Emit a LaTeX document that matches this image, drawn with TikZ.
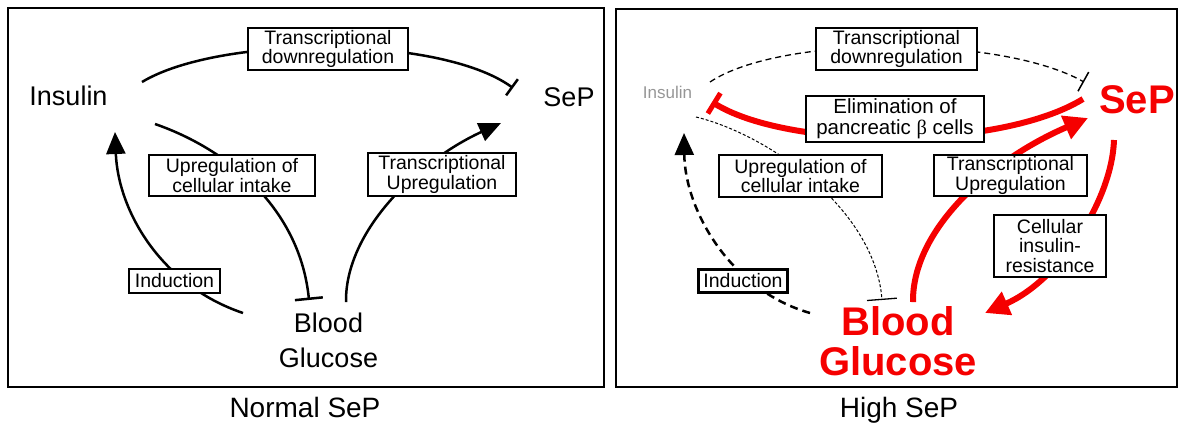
\documentclass[tikz,border=0pt]{standalone}
\usepackage{fontspec}
\setmainfont{Liberation Sans}
\newfontfamily\greekserif{Liberation Serif}
\usetikzlibrary{arrows.meta}
\pgfdeclarelayer{bg}
\pgfsetlayers{bg,main}
\definecolor{hired}{RGB}{245,0,0}
\definecolor{fadegray}{RGB}{150,150,150}
\newcommand\tightls{\lineskiplimit -50pt\relax\lineskip 0pt\relax}
\newcommand\lblfont{\fontsize{19.5}{19.5}\selectfont\tightls}
\newcommand\elfont{\fontsize{20.5}{20.5}\selectfont\tightls}
\newcommand\cirfont{\fontsize{19.5}{19.5}\selectfont\tightls}
\newcommand\bigfont{\fontsize{27}{35}\selectfont\tightls}
\newcommand\redfont{\fontsize{40}{40}\selectfont\bfseries\tightls}
\newcommand\capfont{\fontsize{28}{30}\selectfont}
\newcommand\smallfont{\fontsize{17}{17}\selectfont}
\begin{document}
\begin{tikzpicture}[x=1pt,y=-1pt,
  frame/.style={draw=black, line width=2.5pt},
  lbl/.style={draw=black, line width=2.8pt, fill=white, align=center, inner sep=0pt, font=\lblfont},
  bigtxt/.style={font=\bigfont, inner sep=0pt},
  redtxt/.style={text=hired, font=\redfont, inner sep=0pt},
  captxt/.style={font=\capfont, inner sep=0pt},
  ln/.style={draw=black, line width=2.5pt},
  thindash/.style={draw=black, line width=1.3pt, dash pattern=on 6pt off 4pt},
  finedash/.style={draw=black, line width=1pt, dash pattern=on 3pt off 2pt},
  thickdash/.style={draw=black, line width=2.5pt, dash pattern=on 8pt off 5pt},
  redln/.style={draw=hired, line width=6pt},
  blkarrow/.style={-{Triangle[length=22pt,width=19pt]}},
  redarrow/.style={-{Triangle[length=24pt,width=24pt]}},
  blkbar/.style={-{Bar[width=20pt,line width=2.5pt]}},
]
\useasboundingbox (0,0) rectangle (1184,426);

% ---------- frames ----------
\draw[frame] (8,8) rectangle (604,387);
\draw[frame] (616,9) rectangle (1177,387);

% ---------- left panel nodes ----------
\node[bigtxt, anchor=base] (insL) at (68.5,105) {Insulin};
\node[bigtxt, anchor=base] (sepL) at (569,106) {SeP};
\node[bigtxt, align=center] (bgL) at (328.5,340) {Blood\\Glucose};
\node[captxt, anchor=base] (capL) at (305,417) {Normal SeP};

\node[lbl, minimum width=160pt, minimum height=42pt] (tdL) at (328,49) {Transcriptional\\downregulation};
\node[lbl, minimum width=166pt, minimum height=41pt] (ucL) at (232,175.5) {Upregulation of\\cellular intake};
\node[lbl, minimum width=148pt, minimum height=43pt] (tuL) at (442,174.5) {Transcriptional\\Upregulation};
\node[lbl, minimum width=91pt, minimum height=24pt] (inL) at (174.5,281) {Induction};

\coordinate (aL1) at (142,82);
\coordinate (bL1) at (513,88);
\coordinate (aL2) at (155,124);
\coordinate (bL2) at (309,300);
\coordinate (aL3) at (346,302);
\coordinate (bL3) at (501,123);
\coordinate (aL4) at (243,313);
\coordinate (bL4) at (115,132);

% ---------- right panel nodes ----------
\node[anchor=base, text=fadegray, font=\smallfont, inner sep=0pt] (insR) at (667.5,98) {Insulin};
\node[redtxt, anchor=base] (sepR) at (1137,113) {SeP};
\node[redtxt, align=center] (bgR) at (898,341) {Blood\\Glucose};
\node[captxt, anchor=base] (capR) at (899,417) {High SeP};

\node[lbl, minimum width=161pt, minimum height=42pt] (tdR) at (896.5,49) {Transcriptional\\downregulation};
\node[lbl, minimum width=178pt, minimum height=46pt, font=\elfont] (elR) at (895,119) {Elimination of\\pancreatic {\greekserif β} cells};
\node[lbl, minimum width=163pt, minimum height=42pt] (ucR) at (800.5,176) {Upregulation of\\cellular intake};
\node[lbl, minimum width=153pt, minimum height=41pt] (tuR) at (1010.5,175.5) {Transcriptional\\Upregulation};
\node[lbl, minimum width=112pt, minimum height=62pt, font=\cirfont] (cirR) at (1050,246) {Cellular\\insulin-\\resistance};
\node[lbl, minimum width=89pt, minimum height=23pt] (inR) at (743,281) {Induction};

\coordinate (aR1) at (710,82);
\coordinate (bR1) at (1084,82);
\coordinate (aR2) at (1083,99);
\coordinate (bR2) at (712,102);
\coordinate (aR3) at (696,117);
\coordinate (bR3) at (882,300);
\coordinate (aR4) at (913,302);
\coordinate (bR4) at (1088,118);
\coordinate (aR5) at (1114,140);
\coordinate (bR5) at (985,313);
\coordinate (aR6) at (810,313);
\coordinate (bR6) at (684,133);

% ---------- connectors ----------
\begin{pgfonlayer}{bg}
% left
\draw[ln, blkbar] (aL1) .. controls (220,35) and (440,35) .. (bL1);
\draw[ln, -{Bar[width=28pt,line width=2.5pt]}] (aL2) .. controls (230,150) and (300,210) .. (bL2);
\draw[ln, blkarrow] (aL3) .. controls (345,230) and (420,160) .. (bL3);
\draw[ln, blkarrow] (aL4) .. controls (160,285) and (118,210) .. (bL4);
% right
\draw[thindash, -{Bar[width=22pt,line width=1.5pt]}] (aR1) .. controls (780,35) and (1000,35) .. (bR1);
\draw[redln, -{Bar[width=24pt,line width=5pt]}] (aR2) .. controls (1000,150) and (790,150) .. (bR2);
\draw[finedash, -{Bar[width=30pt,line width=1.3pt]}] (aR3) .. controls (770,135) and (875,210) .. (bR3);
\draw[redln, redarrow] (aR4) .. controls (912,230) and (990,160) .. (bR4);
\draw[redln, redarrow] (aR5) .. controls (1112,200) and (1060,280) .. (bR5);
\draw[thickdash, blkarrow] (aR6) .. controls (730,290) and (685,210) .. (bR6);
\end{pgfonlayer}
\end{tikzpicture}
\end{document}
